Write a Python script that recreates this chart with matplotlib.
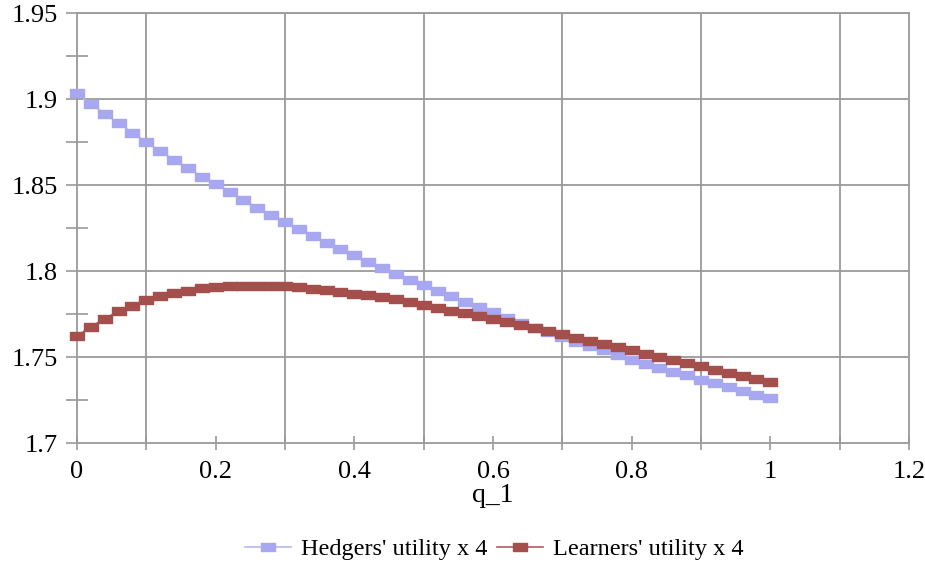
import numpy as np
import matplotlib
matplotlib.use("Agg")
import matplotlib.pyplot as plt
from matplotlib.path import Path
from matplotlib.ticker import FixedLocator

# ---- data ----
q1 = [round(0.02 * i, 2) for i in range(51)]

hedgers = [1.9033, 1.8971, 1.8915, 1.8859, 1.8804, 1.8750, 1.8696, 1.8647, 1.8597, 1.8548,
           1.8504, 1.8459, 1.8413, 1.8368, 1.8327, 1.8287, 1.8244, 1.8203, 1.8165, 1.8128,
           1.8091, 1.8052, 1.8019, 1.7984, 1.7949, 1.7918, 1.7884, 1.7854, 1.7822, 1.7789,
           1.7759, 1.7729, 1.7700, 1.7671, 1.7643, 1.7614, 1.7589, 1.7562, 1.7541, 1.7513,
           1.7484, 1.7461, 1.7438, 1.7413, 1.7394, 1.7368, 1.7347, 1.7326, 1.7304, 1.7281,
           1.7260]

learners = [1.7622, 1.7676, 1.7723, 1.7766, 1.7798, 1.7830, 1.7853, 1.7872, 1.7886, 1.7900,
            1.7907, 1.7913, 1.7915, 1.7915, 1.7915, 1.7913, 1.7905, 1.7897, 1.7890, 1.7880,
            1.7868, 1.7859, 1.7847, 1.7836, 1.7820, 1.7805, 1.7785, 1.7769, 1.7754, 1.7738,
            1.7719, 1.7704, 1.7687, 1.7669, 1.7651, 1.7633, 1.7613, 1.7595, 1.7576, 1.7558,
            1.7539, 1.7520, 1.7502, 1.7484, 1.7463, 1.7446, 1.7426, 1.7409, 1.7391, 1.7372,
            1.7355]

series_labels = ["Hedgers' utility x 4", "Learners' utility x 4"]
x_ticks = [0, 0.2, 0.4, 0.6, 0.8, 1.0, 1.2]
x_tick_labels = ["0", "0.2", "0.4", "0.6", "0.8", "1", "1.2"]
y_ticks = [1.7, 1.75, 1.8, 1.85, 1.9, 1.95]
y_tick_labels = ["1.7", "1.75", "1.8", "1.85", "1.9", "1.95"]

# ---- style ----
plt.rcParams['font.family'] = ['Liberation Serif', 'DejaVu Serif']
grid_c = '#9a9a9a'
blue = '#a8a8f0'
blue_line = '#b8b8f0'
red = '#a54f4d'
red_line = '#a86060'

rect = Path([(-1, -0.6), (1, -0.6), (1, 0.6), (-1, 0.6), (-1, -0.6)],
            [Path.MOVETO, Path.LINETO, Path.LINETO, Path.LINETO, Path.CLOSEPOLY])

fig = plt.figure(figsize=(9.25, 5.69), dpi=100)
ax = fig.add_axes([77/925, 1-443/569, (909-77)/925, (443-13)/569])

ax.plot(q1, hedgers, color=blue_line, lw=1.2, marker=rect, markersize=9.5,
        markerfacecolor=blue, markeredgecolor=blue, label=series_labels[0],
        zorder=3, clip_on=False)
ax.plot(q1, learners, color=red_line, lw=1.2, marker=rect, markersize=9.5,
        markerfacecolor=red, markeredgecolor=red, label=series_labels[1],
        zorder=4, clip_on=False)

ax.set_xlim(0, 1.2)
ax.set_ylim(1.7, 1.95)

ax.set_xticks(x_ticks)
ax.set_xticklabels(x_tick_labels)
ax.set_yticks(y_ticks)
ax.set_yticklabels(y_tick_labels)
ax.xaxis.set_minor_locator(FixedLocator([0.1, 0.3, 0.5, 0.7, 0.9, 1.1]))
ax.yaxis.set_minor_locator(FixedLocator([1.725, 1.775, 1.825, 1.875, 1.925]))

ax.grid(False)
for yv in y_ticks[1:]:
    ax.axhline(yv, color=grid_c, lw=1.3, zorder=1)
for xv in [0.1, 0.3, 0.5, 0.7, 0.9, 1.1]:
    ax.axvline(xv, color=grid_c, lw=1.3, zorder=1)

for s in ax.spines.values():
    s.set_color(grid_c)
    s.set_linewidth(1.3)

ax.tick_params(axis='y', which='major', direction='out', length=8, width=1.2,
               color=grid_c, labelsize=19, pad=6)
ax.tick_params(axis='y', which='minor', direction='inout', length=16, width=1.2, color=grid_c)
ax.tick_params(axis='x', which='major', direction='inout', length=10, width=1.2,
               color=grid_c, labelsize=19, pad=8)
ax.tick_params(axis='x', which='minor', direction='inout', length=10, width=1.2, color=grid_c)

ax.set_xlabel("q_1", fontsize=20, labelpad=0)

fig.legend(loc='center', bbox_to_anchor=(0.534, 0.035), ncol=2, frameon=False,
           fontsize=17.5, handlelength=1.9, columnspacing=0.4, handletextpad=0.4)

fig.savefig("out.png", dpi=100)
